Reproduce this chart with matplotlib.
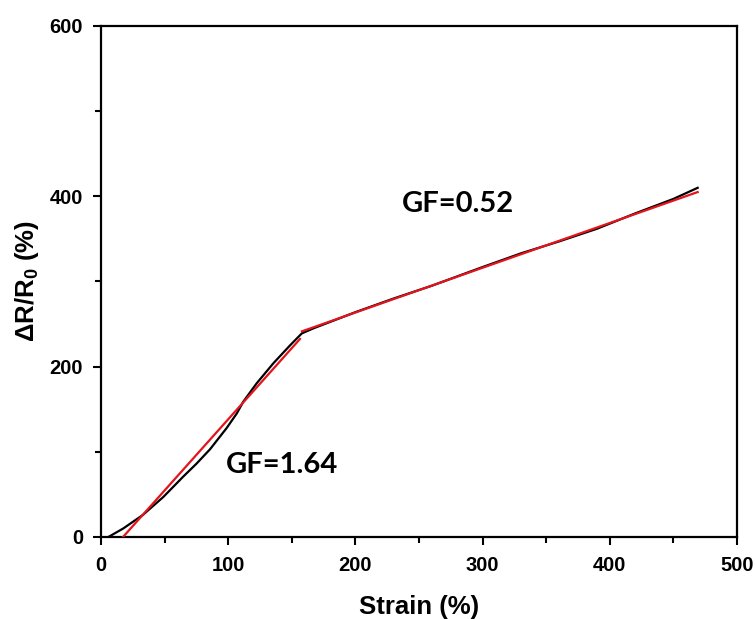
import matplotlib
matplotlib.use("Agg")
import matplotlib.pyplot as plt
from matplotlib.ticker import MultipleLocator

# Measured response (strain %, dR/R0 %)
strain = [5.8, 17.5, 33, 49, 64.7, 75, 85.7, 98.8, 106.7, 111.9, 122.4, 135.5, 148.6, 157.8, 167,
          200, 230, 260, 300, 330, 360, 390, 420, 450, 469]
resp = [0, 10, 26, 47, 71, 86, 103, 128, 145, 159, 180.5, 204, 225, 239, 245,
        264, 280, 295, 317, 333, 347, 362, 380, 397, 410]

# Linear fits (end points)
fit1_x = [17.3, 156.4]
fit1_y = [0, 232.5]
fit2_x = [158, 469]
fit2_y = [241.5, 405]

labels = ["GF=1.64", "GF=0.52"]
label_x = [142, 281]
label_y = [84.5, 391]

plt.rcParams['font.family'] = ['Liberation Sans', 'DejaVu Sans']
plt.rcParams['mathtext.fontset'] = 'custom'
plt.rcParams['mathtext.bf'] = 'Liberation Sans:bold'
plt.rcParams['mathtext.rm'] = 'Liberation Sans:bold'

fig = plt.figure(figsize=(7.56, 6.19), dpi=100)
ax = fig.add_axes([0.1336, 0.1325, 0.975 - 0.1336, 0.958 - 0.1325])

ax.plot(strain, resp, color='black', lw=1.6, zorder=2)
ax.plot(fit1_x, fit1_y, color='#e3141c', lw=1.6, zorder=3)
ax.plot(fit2_x, fit2_y, color='#e3141c', lw=1.6, zorder=3)

for t, x, y in zip(labels, label_x, label_y):
    ax.text(x, y, t, fontsize=21, fontweight='bold', family=['Lato', 'DejaVu Sans'],
            ha='center', va='center')

ax.set_xlim(0, 500)
ax.set_ylim(0, 600)
ax.xaxis.set_major_locator(MultipleLocator(100))
ax.xaxis.set_minor_locator(MultipleLocator(50))
ax.yaxis.set_major_locator(MultipleLocator(200))
ax.yaxis.set_minor_locator(MultipleLocator(100))
ax.tick_params(which='both', direction='out', width=1.5, top=False, right=False)
ax.tick_params(which='major', length=6, labelsize=14.5)
ax.tick_params(axis='x', which='major', pad=8)
ax.tick_params(axis='y', which='major', pad=7)
ax.tick_params(which='minor', length=4)
for lab in ax.get_xticklabels() + ax.get_yticklabels():
    lab.set_fontweight('bold')
for s in ax.spines.values():
    s.set_linewidth(1.6)

ax.set_xlabel('Strain (%)', fontsize=18.5, fontweight='bold', labelpad=14)
ax.set_ylabel(r'ΔR/R$_\mathbf{0}$ (%)', fontsize=18.5, fontweight='bold', labelpad=6)

fig.savefig('out.png', dpi=100)
